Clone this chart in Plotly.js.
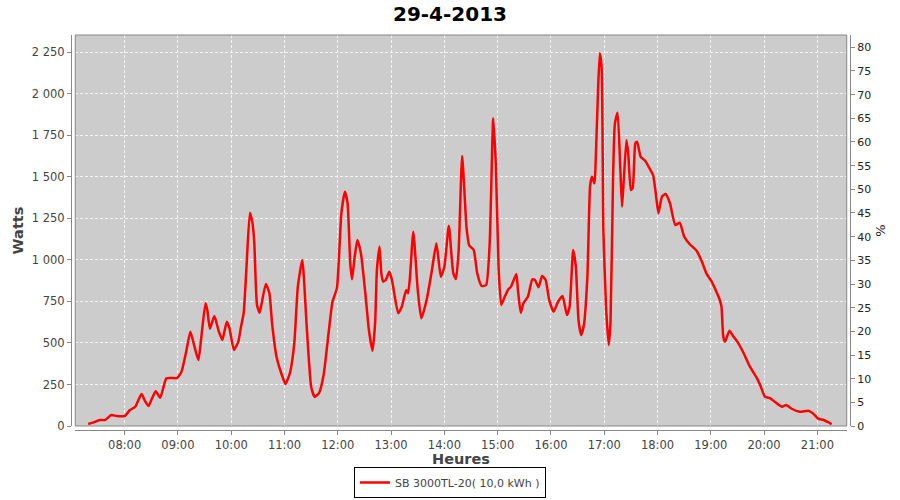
<!DOCTYPE html>
<html>
<head>
<meta charset="utf-8">
<script src="https://cdn.plot.ly/plotly-3.0.1.min.js"></script>
<style>html,body{margin:0;padding:0;background:#fff}#chart{width:900px;height:500px}</style>
</head>
<body>
<div id="chart"></div>
<script>
var chartTitle = "29-4-2013";
var seriesName = "SB 3000TL-20( 10,0 kWh )";
var day = "2013-04-29 ";
var times = ["07:19","07:25","07:32","07:38","07:45","07:51","08:00","08:06","08:12","08:19","08:23","08:27","08:30","08:35","08:40","08:47","08:53","08:59","09:04","09:09","09:14","09:19","09:23","09:26","09:31","09:33","09:36","09:41","09:46","09:50","09:55","09:58","10:03","10:08","10:11","10:14","10:17","10:21","10:24","10:26","10:29","10:32","10:35","10:39","10:43","10:46","10:51","10:57","11:01","11:06","11:11","11:15","11:20","11:25","11:30","11:34","11:39","11:44","11:50","11:54","11:59","12:04","12:08","12:11","12:14","12:16","12:19","12:22","12:26","12:31","12:35","12:39","12:42","12:44","12:47","12:49","12:51","12:54","12:58","13:01","13:08","13:12","13:17","13:19","13:21","13:25","13:30","13:34","13:40","13:46","13:51","13:56","14:00","14:05","14:10","14:13","14:16","14:20","14:25","14:28","14:33","14:37","14:42","14:47","14:51","14:55","14:58","15:01","15:04","15:08","15:12","15:15","15:21","15:23","15:26","15:29","15:34","15:39","15:42","15:46","15:50","15:54","15:58","16:03","16:08","16:13","16:18","16:21","16:25","16:28","16:31","16:34","16:37","16:41","16:44","16:46","16:49","16:50","16:53","16:55","16:57","16:59","17:02","17:05","17:07","17:10","17:12","17:15","17:18","17:20","17:22","17:25","17:27","17:30","17:32","17:35","17:37","17:41","17:46","17:51","17:55","17:58","18:01","18:05","18:09","18:14","18:20","18:25","18:30","18:36","18:44","18:50","18:55","19:01","19:07","19:10","19:12","19:14","19:16","19:21","19:25","19:31","19:37","19:44","19:52","19:56","20:01","20:07","20:12","20:20","20:25","20:31","20:40","20:50","20:55","21:01","21:07","21:16"];
var watts = [12,22,36,36,66,60,60,96,116,193,150,120,156,209,170,287,289,289,327,440,568,470,397,518,739,700,586,662,570,518,628,590,458,508,598,679,939,1284,1220,1100,729,682,759,855,799,618,417,307,253,317,498,839,999,598,237,176,200,307,578,748,830,1280,1411,1341,980,883,1019,1120,1040,799,578,453,618,939,1080,919,869,879,929,879,679,718,819,799,879,1170,819,648,759,939,1100,899,959,1205,920,885,1050,1625,1190,1087,1060,919,843,849,1100,1853,1561,959,729,778,823,839,915,809,682,739,778,883,879,835,903,879,759,688,748,783,668,718,1060,959,638,548,605,899,1441,1501,1461,1541,2023,2244,2163,1180,718,488,618,1521,1822,1886,1561,1320,1481,1722,1642,1421,1431,1702,1712,1621,1597,1551,1511,1401,1281,1381,1397,1341,1210,1224,1140,1096,1055,989,919,869,799,760,718,538,508,574,542,498,438,357,287,241,176,167,146,116,126,104,86,92,76,44,36,12];
var xTitle = "Heures";
var yTitle = "Watts";
var y2Title = "%";

var xs = times.map(function(t){ return day + t; });

var tickFont = {family: "DejaVu Sans", size: 11.5, color: "#444"};
var axTitleFont = {family: "DejaVu Sans", size: 14.5, color: "#444", weight: "bold"};
var data = [
  {x: xs, y: watts, type: "scatter", mode: "lines", name: seriesName,
   line: {color: "#ff0000", width: 2.5, shape: "spline", smoothing: 0.5}},
  {x: [null], y: [null], type: "scatter", mode: "lines", yaxis: "y2", showlegend: false, hoverinfo: "skip"}
];
var layout = {
  width: 900, height: 500,
  paper_bgcolor: "#ffffff", plot_bgcolor: "#cccccc",
  separators: ", ",
  margin: {l: 71, r: 50, t: 35, b: 70, pad: 0, autoexpand: false},
  title: {text: "<b>" + chartTitle + "</b>", x: 0.5, xanchor: "center", y: 0.972, yanchor: "middle",
          font: {family: "DejaVu Sans", size: 20, color: "#000"}},
  showlegend: true,
  legend: {orientation: "h", x: 0.5, xref: "container", xanchor: "center", y: 0.004, yref: "container", yanchor: "bottom",
           bordercolor: "#000", borderwidth: 1, bgcolor: "#fff",
           font: {family: "DejaVu Sans", size: 11, color: "#444"}, itemwidth: 30},
  xaxis: {type: "date", domain: [0.0055, 0.9958], anchor: "free", position: 0, automargin: false,
          range: [day + "07:04:25", day + "21:33:00"],
          tickformat: "%H:%M", dtick: 3600000, tick0: day + "08:00",
          showgrid: true, gridcolor: "#f4f4f4", griddash: "3px,2px", gridwidth: 1,
          showline: true, linecolor: "#888", linewidth: 1,
          ticks: "outside", ticklen: 4, tickcolor: "#888", tickfont: tickFont,
          zeroline: false,
          title: {text: xTitle, font: axTitleFont, standoff: 6}},
  yaxis: {domain: [0.0101, 1], anchor: "free", position: 0, automargin: false,
          range: [0, 2354], dtick: 250, tickformat: ",d",
          showgrid: true, gridcolor: "#f4f4f4", griddash: "3px,2px", gridwidth: 1,
          showline: true, linecolor: "#888", linewidth: 1,
          ticks: "outside", ticklen: 4, tickcolor: "#888", tickfont: tickFont,
          zeroline: false,
          title: {text: yTitle, font: axTitleFont, standoff: 3}},
  yaxis2: {domain: [0.0101, 1], anchor: "free", position: 1, overlaying: "y", side: "right", automargin: false,
           range: [0, 82.6], dtick: 5, showgrid: false, zeroline: false,
           showline: true, linecolor: "#888", linewidth: 1,
           ticks: "outside", ticklen: 4, tickcolor: "#888",
           tickfont: {family: "DejaVu Sans", size: 11, color: "#222"},
           title: {text: y2Title, font: {family: "DejaVu Sans", size: 13, color: "#222"}, standoff: 5}},
  shapes: [{type: "rect", xref: "x domain", yref: "y domain", x0: 0, x1: 1, y0: 0, y1: 1,
            line: {color: "#888", width: 1}, fillcolor: "rgba(0,0,0,0)", layer: "above"}]
};
Plotly.newPlot("chart", data, layout, {staticPlot: true, displayModeBar: false});
</script>
</body>
</html>
